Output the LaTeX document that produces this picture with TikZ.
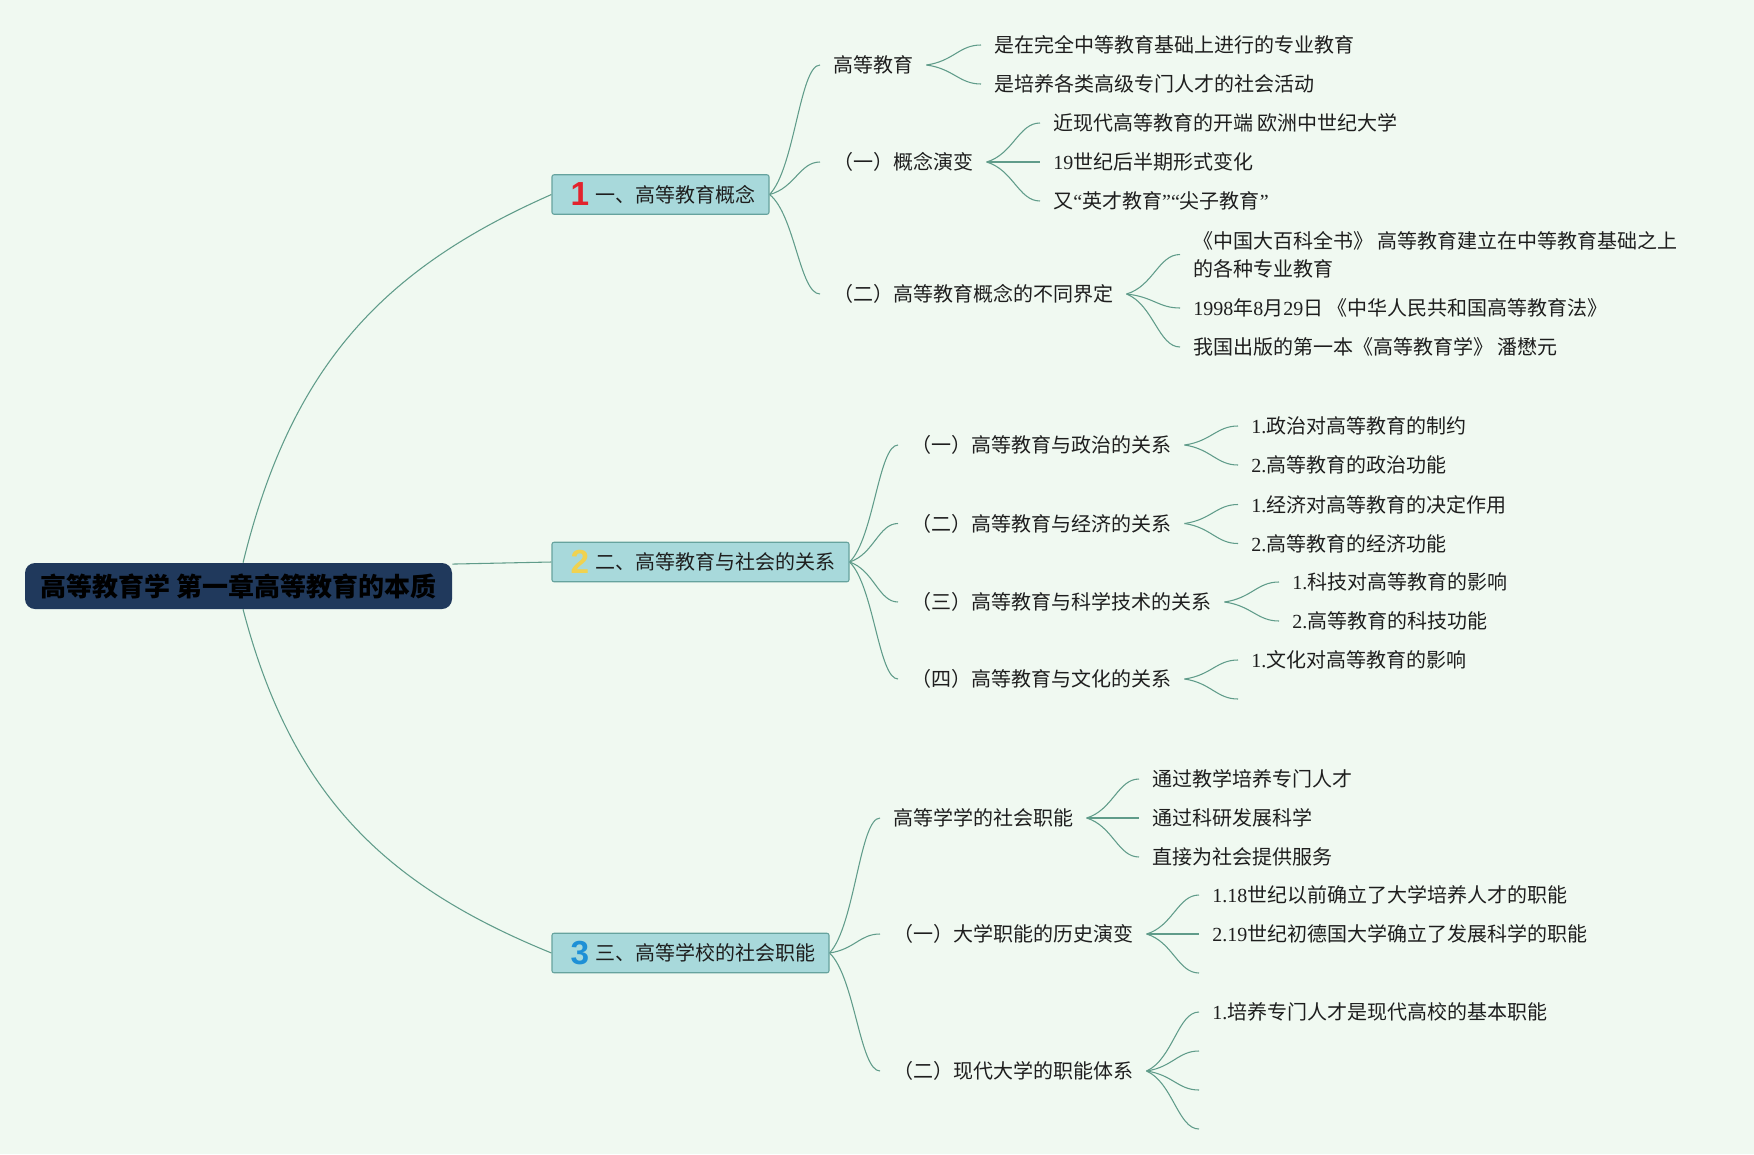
\documentclass[tikz,border=0pt]{standalone}
\usepackage{fontspec}
\setmainfont{Noto Sans CJK SC}
\newfontfamily\serifl{Liberation Serif}
\newfontfamily\numf{Liberation Sans}
\newcommand\ls[1]{{\serifl #1}}
\usetikzlibrary{calc}
\definecolor{bgc}{RGB}{240,249,241}
\definecolor{linec}{RGB}{96,156,138}
\definecolor{boxc}{RGB}{168,217,219}
\definecolor{boxb}{RGB}{102,163,158}
\definecolor{rootc}{RGB}{32,57,92}
\definecolor{txtc}{RGB}{30,30,30}
\definecolor{nonec}{RGB}{226,35,45}
\definecolor{ntwoc}{RGB}{240,210,80}
\definecolor{nthreec}{RGB}{30,144,214}
\pgfdeclarelayer{bg}
\pgfdeclarelayer{lines}
\pgfsetlayers{bg,lines,main}
\newcommand\conn[2]{\draw[conn] let \p1=(#1), \p2=(#2) in (\p1) .. controls ({\x1+0.5*(\x2-\x1)},{\y1+0.2*(\y2-\y1)}) and ({\x1+0.6*(\x2-\x1)},{\y2}) .. (\p2);}
\begin{document}
\begin{tikzpicture}[x=0.75pt,y=-0.75pt,
  conn/.style={draw=linec,line width=0.8pt},
  txt/.style={anchor=west,inner xsep=9.75pt,inner ysep=0pt,text height=11.4pt,text depth=0pt,font=\fontsize{15pt}{21pt}\selectfont,text=txtc},
  txttwo/.style={anchor=west,inner xsep=9.75pt,inner ysep=0pt,align=left,font=\fontsize{15pt}{21pt}\selectfont,text=txtc},
  rootbox/.style={fill=rootc,rounded corners=7.5pt,minimum width=320.25pt,minimum height=34.5pt,inner sep=0pt,font=\fontsize{19.5pt}{24pt}\selectfont\bfseries,text=black},
  bbox/.style={fill=boxc,draw=boxb,line width=0.8pt,rounded corners=1.5pt,minimum height=29.6pt,inner sep=0pt},
  numb/.style={inner sep=0pt,font=\numf\bfseries\fontsize{25pt}{25pt}\selectfont},
  btxt/.style={txt,inner xsep=0pt}]
\useasboundingbox (0,0) rectangle (1754,1154);
\begin{pgfonlayer}{bg}
\fill[bgc] (0,0) rectangle (1754,1154);
\end{pgfonlayer}

% root
\node[rootbox] (root) at (238.5,586) {高等教育学 第一章高等教育的本质};

% branch boxes
\node[bbox,minimum width=162.75pt] (b1) at (660.5,194.5) {};
\node[numb,text=nonec] (n1) at (580,194.5) {1};
\node[btxt] (t1) at (595,194.5) {一、高等教育概念};

\node[bbox,minimum width=222.75pt] (b2) at (700.5,562) {};
\node[numb,text=ntwoc] (n2) at (580,562) {2};
\node[btxt] (t2) at (595,562) {二、高等教育与社会的关系};

\node[bbox,minimum width=207.75pt] (b3) at (690.5,953) {};
\node[numb,text=nthreec] (n3) at (580,953) {3};
\node[btxt] (t3) at (595,953) {三、高等学校的社会职能};

% branch 1
\node[txt] (k11) at (820,65) {高等教育};
\node[txt] (k12) at (820,162) {（一）概念演变};
\node[txt] (k13) at (820,294) {（二）高等教育概念的不同界定};
\node[txt] (g111) at (981,45) {是在完全中等教育基础上进行的专业教育};
\node[txt] (g112) at (981,84) {是培养各类高级专门人才的社会活动};
\node[txt] (g121) at (1040,123) {近现代高等教育的开端 欧洲中世纪大学};
\node[txt] (g122) at (1040,162) {\ls{19}世纪后半期形式变化};
\node[txt] (g123) at (1040,201) {又\ls{“}英才教育\ls{”“}尖子教育\ls{”}};
\node[txttwo] (g131) at (1180,254.5) {《中国大百科全书》 高等教育建立在中等教育基础之上\\的各种专业教育};
\node[txt] (g132) at (1180,308) {\ls{1998}年\ls{8}月\ls{29}日 《中华人民共和国高等教育法》};
\node[txt] (g133) at (1180,347) {我国出版的第一本《高等教育学》 潘懋元};

% branch 2
\node[txt] (k21) at (898,445) {（一）高等教育与政治的关系};
\node[txt] (k22) at (898,523.5) {（二）高等教育与经济的关系};
\node[txt] (k23) at (898,602) {（三）高等教育与科学技术的关系};
\node[txt] (k24) at (898,679) {（四）高等教育与文化的关系};
\node[txt] (g211) at (1238,426) {\ls{1.}政治对高等教育的制约};
\node[txt] (g212) at (1238,465) {\ls{2.}高等教育的政治功能};
\node[txt] (g221) at (1238,504.5) {\ls{1.}经济对高等教育的决定作用};
\node[txt] (g222) at (1238,543.5) {\ls{2.}高等教育的经济功能};
\node[txt] (g231) at (1279,582) {\ls{1.}科技对高等教育的影响};
\node[txt] (g232) at (1279,621) {\ls{2.}高等教育的科技功能};
\node[txt] (g241) at (1238,660) {\ls{1.}文化对高等教育的影响};
\coordinate (g242) at (1238,699);

% branch 3
\node[txt] (k31) at (880,818) {高等学学的社会职能};
\node[txt] (k32) at (880,934) {（一）大学职能的历史演变};
\node[txt] (k33) at (880,1071) {（二）现代大学的职能体系};
\node[txt] (g311) at (1139,779) {通过教学培养专门人才};
\node[txt] (g312) at (1139,818) {通过科研发展科学};
\node[txt] (g313) at (1139,857) {直接为社会提供服务};
\node[txt] (g321) at (1199,895) {\ls{1.18}世纪以前确立了大学培养人才的职能};
\node[txt] (g322) at (1199,934) {\ls{2.19}世纪初德国大学确立了发展科学的职能};
\coordinate (g323) at (1199,973);
\node[txt] (g331) at (1199,1012) {\ls{1.}培养专门人才是现代高校的基本职能};
\coordinate (g332) at (1199,1051);
\coordinate (g333) at (1199,1090);
\coordinate (g334) at (1199,1129);

\begin{pgfonlayer}{lines}
% root to branches
\draw[conn] ([xshift=3.4pt]root.north) .. controls (292,362) and (387,267) .. (b1.west);
\draw[conn] ([yshift=-1pt]root.north east) -- (b2.west);
\draw[conn] ([xshift=3.4pt]root.south) .. controls (292,797) and (387,886) .. (b3.west);
% branch 1 fans
\conn{b1.east}{k11.west}
\conn{b1.east}{k12.west}
\conn{b1.east}{k13.west}
\conn{k11.east}{g111.west}
\conn{k11.east}{g112.west}
\conn{k12.east}{g121.west}
\conn{k12.east}{g122.west}
\conn{k12.east}{g123.west}
\conn{k13.east}{g131.west}
\conn{k13.east}{g132.west}
\conn{k13.east}{g133.west}
% branch 2 fans
\conn{b2.east}{k21.west}
\conn{b2.east}{k22.west}
\conn{b2.east}{k23.west}
\conn{b2.east}{k24.west}
\conn{k21.east}{g211.west}
\conn{k21.east}{g212.west}
\conn{k22.east}{g221.west}
\conn{k22.east}{g222.west}
\conn{k23.east}{g231.west}
\conn{k23.east}{g232.west}
\conn{k24.east}{g241.west}
\conn{k24.east}{g242}
% branch 3 fans
\conn{b3.east}{k31.west}
\conn{b3.east}{k32.west}
\conn{b3.east}{k33.west}
\conn{k31.east}{g311.west}
\conn{k31.east}{g312.west}
\conn{k31.east}{g313.west}
\conn{k32.east}{g321.west}
\conn{k32.east}{g322.west}
\conn{k32.east}{g323}
\conn{k33.east}{g331.west}
\conn{k33.east}{g332}
\conn{k33.east}{g333}
\conn{k33.east}{g334}
\end{pgfonlayer}
\end{tikzpicture}
\end{document}
